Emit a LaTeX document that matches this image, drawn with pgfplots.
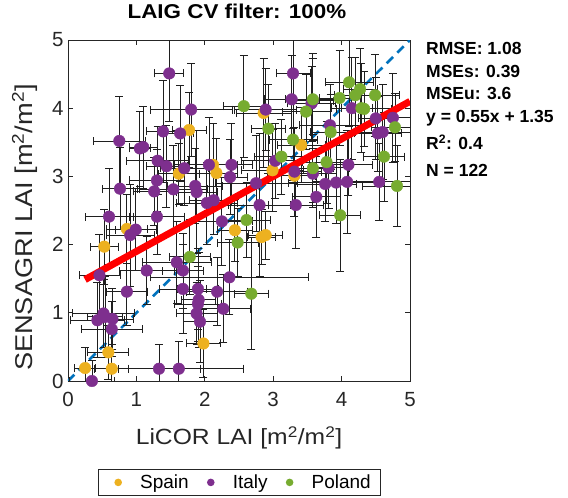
\documentclass[border=0pt]{standalone}
\usepackage{fontspec}
\setmainfont{Liberation Sans}
\newfontfamily\widefont[FakeStretch=1.12]{Liberation Sans}
\usepackage{pgfplots}
\usepackage{pgfplotstable}
\pgfplotsset{compat=1.18}
\definecolor{spain}{rgb}{0.929,0.694,0.125}
\definecolor{italy}{rgb}{0.494,0.184,0.556}
\definecolor{poland}{rgb}{0.466,0.674,0.188}
\definecolor{mblue}{rgb}{0,0.447,0.741}
\definecolor{ebar}{gray}{0.12}

\pgfplotstableread{
x y ex ey
1.77 3.68 0.25 0.55
1.62 3.04 0.30 0.45
2.12 3.17 0.35 0.60
2.17 3.05 0.30 0.50
2.86 3.93 0.40 0.80
3.41 3.46 0.35 0.55
2.99 3.09 0.45 0.60
3.31 3.01 0.30 0.45
0.86 2.23 0.30 0.50
0.53 1.97 0.20 0.55
2.44 2.21 0.25 0.45
2.83 2.11 0.20 0.40
2.89 2.14 0.25 0.35
1.98 0.55 0.25 0.50
0.59 0.42 0.30 0.40
0.25 0.19 0.15 0.30
0.64 0.18 0.25 0.35
}\spain

\pgfplotstableread{
x y ex ey
1.48 4.51 0.21 0.70
1.80 3.98 0.60 0.68
0.75 3.52 0.38 0.65
1.05 3.41 0.15 0.55
1.10 3.43 0.20 0.60
1.39 3.66 0.25 0.75
1.64 3.63 0.20 0.70
1.31 3.23 0.45 0.50
1.44 3.15 0.30 0.60
1.70 3.12 0.35 0.55
1.30 2.94 0.40 0.45
0.76 2.82 0.25 0.60
1.26 2.78 0.30 0.50
1.54 2.81 0.50 0.65
1.86 2.86 0.40 0.55
1.88 2.77 0.30 0.90
2.06 3.17 0.50 0.70
2.39 3.17 0.30 0.60
2.37 2.99 0.25 0.55
2.03 2.61 0.45 0.60
2.13 2.65 0.35 0.50
3.29 4.51 0.25 0.80
2.89 3.98 0.45 0.60
3.27 4.13 0.40 0.65
3.58 4.11 0.30 0.70
3.56 4.07 0.35 0.55
4.15 4.00 0.30 0.75
4.50 3.85 0.25 0.60
4.75 3.86 0.30 0.65
4.53 3.63 0.35 0.55
4.60 3.65 0.40 0.70
3.83 3.75 0.45 0.60
3.03 3.23 0.50 0.55
3.31 3.07 0.40 0.65
3.58 3.04 0.35 0.50
3.81 3.13 0.30 0.60
4.10 3.17 0.35 0.45
2.75 2.90 0.60 0.70
3.76 2.89 0.45 0.55
3.92 2.91 0.70 0.60
4.08 2.92 0.50 0.75
4.55 2.92 0.60 0.57
3.63 2.70 0.35 0.59
2.80 2.58 0.45 1.05
3.33 2.58 0.40 0.63
0.60 2.41 0.35 0.70
1.30 2.41 0.40 0.55
0.99 2.22 0.30 0.60
0.91 2.14 0.35 0.75
2.25 2.34 0.45 0.65
1.59 1.74 0.50 0.60
1.68 1.62 0.30 0.55
1.15 1.62 0.40 0.50
0.46 1.55 0.30 0.60
2.36 1.52 1.15 0.55
0.86 1.31 0.30 0.50
1.68 1.35 0.35 0.65
1.90 1.35 0.30 0.60
2.18 1.31 0.45 0.50
1.91 1.19 0.25 0.70
1.90 1.13 0.35 0.55
2.27 1.06 0.40 0.50
1.88 0.99 0.30 0.45
1.93 0.87 0.25 0.60
0.52 0.99 0.45 0.50
0.43 0.89 0.40 0.55
0.65 0.91 0.30 0.45
0.54 0.94 0.25 0.60
0.64 0.76 0.45 0.40
1.33 0.18 0.60 0.35
1.62 0.18 0.95 0.40
0.35 0.00 0.33 0.30
}\italy

\pgfplotstableread{
x y ex ey
2.57 4.03 0.30 0.75
3.58 4.13 0.40 0.60
3.48 3.95 0.35 0.55
2.93 3.70 0.25 0.65
3.97 4.15 0.30 0.70
4.11 4.38 0.35 0.65
4.27 4.28 0.25 0.60
4.20 4.19 0.30 0.55
4.49 4.19 0.35 0.60
4.29 4.00 0.30 0.65
4.33 3.99 0.40 0.55
4.78 3.72 0.35 0.50
3.84 3.65 0.30 0.55
3.29 3.54 0.35 0.60
3.12 3.29 0.40 0.55
3.58 3.12 0.30 0.50
3.78 3.21 0.35 0.60
4.62 3.29 0.30 0.65
4.81 2.86 0.50 0.60
3.98 2.43 0.30 0.82
2.61 2.36 0.35 0.55
2.48 2.03 0.30 0.50
2.68 1.28 0.25 0.82
1.78 1.82 0.30 0.55
}\poland

\pgfplotsset{
  pts/.style={only marks, mark=*, mark size=5.8pt, color=#1, mark options={fill=#1, draw=#1}, forget plot,
    error bars/.cd, x dir=both, x explicit, y dir=both, y explicit,
    error mark=-,
    error bar style={ebar, line width=0.8pt},
    error mark options={rotate=90, draw=ebar, fill=ebar, line width=0.8pt, mark size=4pt}},
}

\begin{document}
\begin{tikzpicture}
\useasboundingbox (0pt,0pt) rectangle (568pt,498pt);
\begin{axis}[
  at={(68pt,117pt)}, anchor=south west,
  scale only axis, width=342pt, height=341pt,
  xmin=0, xmax=5, ymin=0, ymax=5,
  xtick={0,1,2,3,4,5}, ytick={0,1,2,3,4,5},
  /pgf/number format/assume math mode=true,
  tick label style={font=\fontsize{20.5}{23}\selectfont, black!85},
  xticklabel style={yshift=-8pt},
  yticklabel style={xshift=-1pt},
  major tick length=5pt,
  tick align=inside,
  axis line style={line width=0.8pt, black!85},
  tick style={line width=0.8pt, black!85},
  title={LAIG CV filter: 100\%},
  title style={font=\widefont\fontsize{20}{24}\selectfont\bfseries, at={(axis description cs:0.494,1.065)}, anchor=center},
  xlabel={LiCOR LAI [m\textsuperscript{2}/m\textsuperscript{2}]},
  xlabel style={font=\widefont\fontsize{22}{25}\selectfont, black!85, at={(axis description cs:0.5,-0.167)}, anchor=center},
  ylabel={SENSAGRI LAI [m\textsuperscript{2}/m\textsuperscript{2}]},
  ylabel style={font=\widefont\fontsize{24.3}{27}\selectfont, black!85, at={(axis description cs:-0.126,0.45)}, anchor=center},
  legend style={at={(axis description cs:0.5,-0.258)}, anchor=north, legend columns=3,
    draw=black!85, line width=0.6pt, font=\fontsize{19}{22}\selectfont,
    /tikz/every even column/.append style={column sep=7pt}, inner xsep=7pt, inner ysep=3.5pt},
  legend cell align=left,
]
\addplot[mblue, line width=2.6pt, dash pattern=on 9pt off 6pt, forget plot] coordinates {(0,0) (5,5)};
\addplot[pts=spain] table[x=x, y=y, x error=ex, y error=ey] {\spain};
\addplot[pts=italy] table[x=x, y=y, x error=ex, y error=ey] {\italy};
\addplot[pts=poland] table[x=x, y=y, x error=ex, y error=ey] {\poland};
\addplot[red, line width=7pt, forget plot] coordinates {(0.25,1.4875) (5,4.1)};
\addlegendimage{legend image code/.code={\fill[spain, draw=none] (13pt,0pt) circle (3.8pt); \path[draw=none, fill=none] (0pt,-4pt) (33pt,4pt);}}
\addlegendentry{Spain}
\addlegendimage{legend image code/.code={\fill[italy, draw=none] (13pt,0pt) circle (3.8pt); \path[draw=none, fill=none] (0pt,-4pt) (33pt,4pt);}}
\addlegendentry{Italy}
\addlegendimage{legend image code/.code={\fill[poland, draw=none] (13pt,0pt) circle (3.8pt); \path[draw=none, fill=none] (0pt,-4pt) (33pt,4pt);}}
\addlegendentry{Poland}
\end{axis}
\begin{scope}[font=\fontsize{17.5}{20}\selectfont\bfseries]
\node[anchor=base west, inner sep=0pt] at (426pt,443.7pt) {RMSE: 1.08};
\node[anchor=base west, inner sep=0pt] at (426pt,420.7pt) {MSEs: 0.39};
\node[anchor=base west, inner sep=0pt] at (426pt,398.7pt) {MSEu: 3.6};
\node[anchor=base west, inner sep=0pt] at (426pt,375.7pt) {y = 0.55x + 1.35};
\node[anchor=base west, inner sep=0pt] at (426pt,348.7pt) {R\textsuperscript{2}: 0.4};
\node[anchor=base west, inner sep=0pt] at (426pt,321.7pt) {N = 122};
\end{scope}
\end{tikzpicture}
\end{document}
